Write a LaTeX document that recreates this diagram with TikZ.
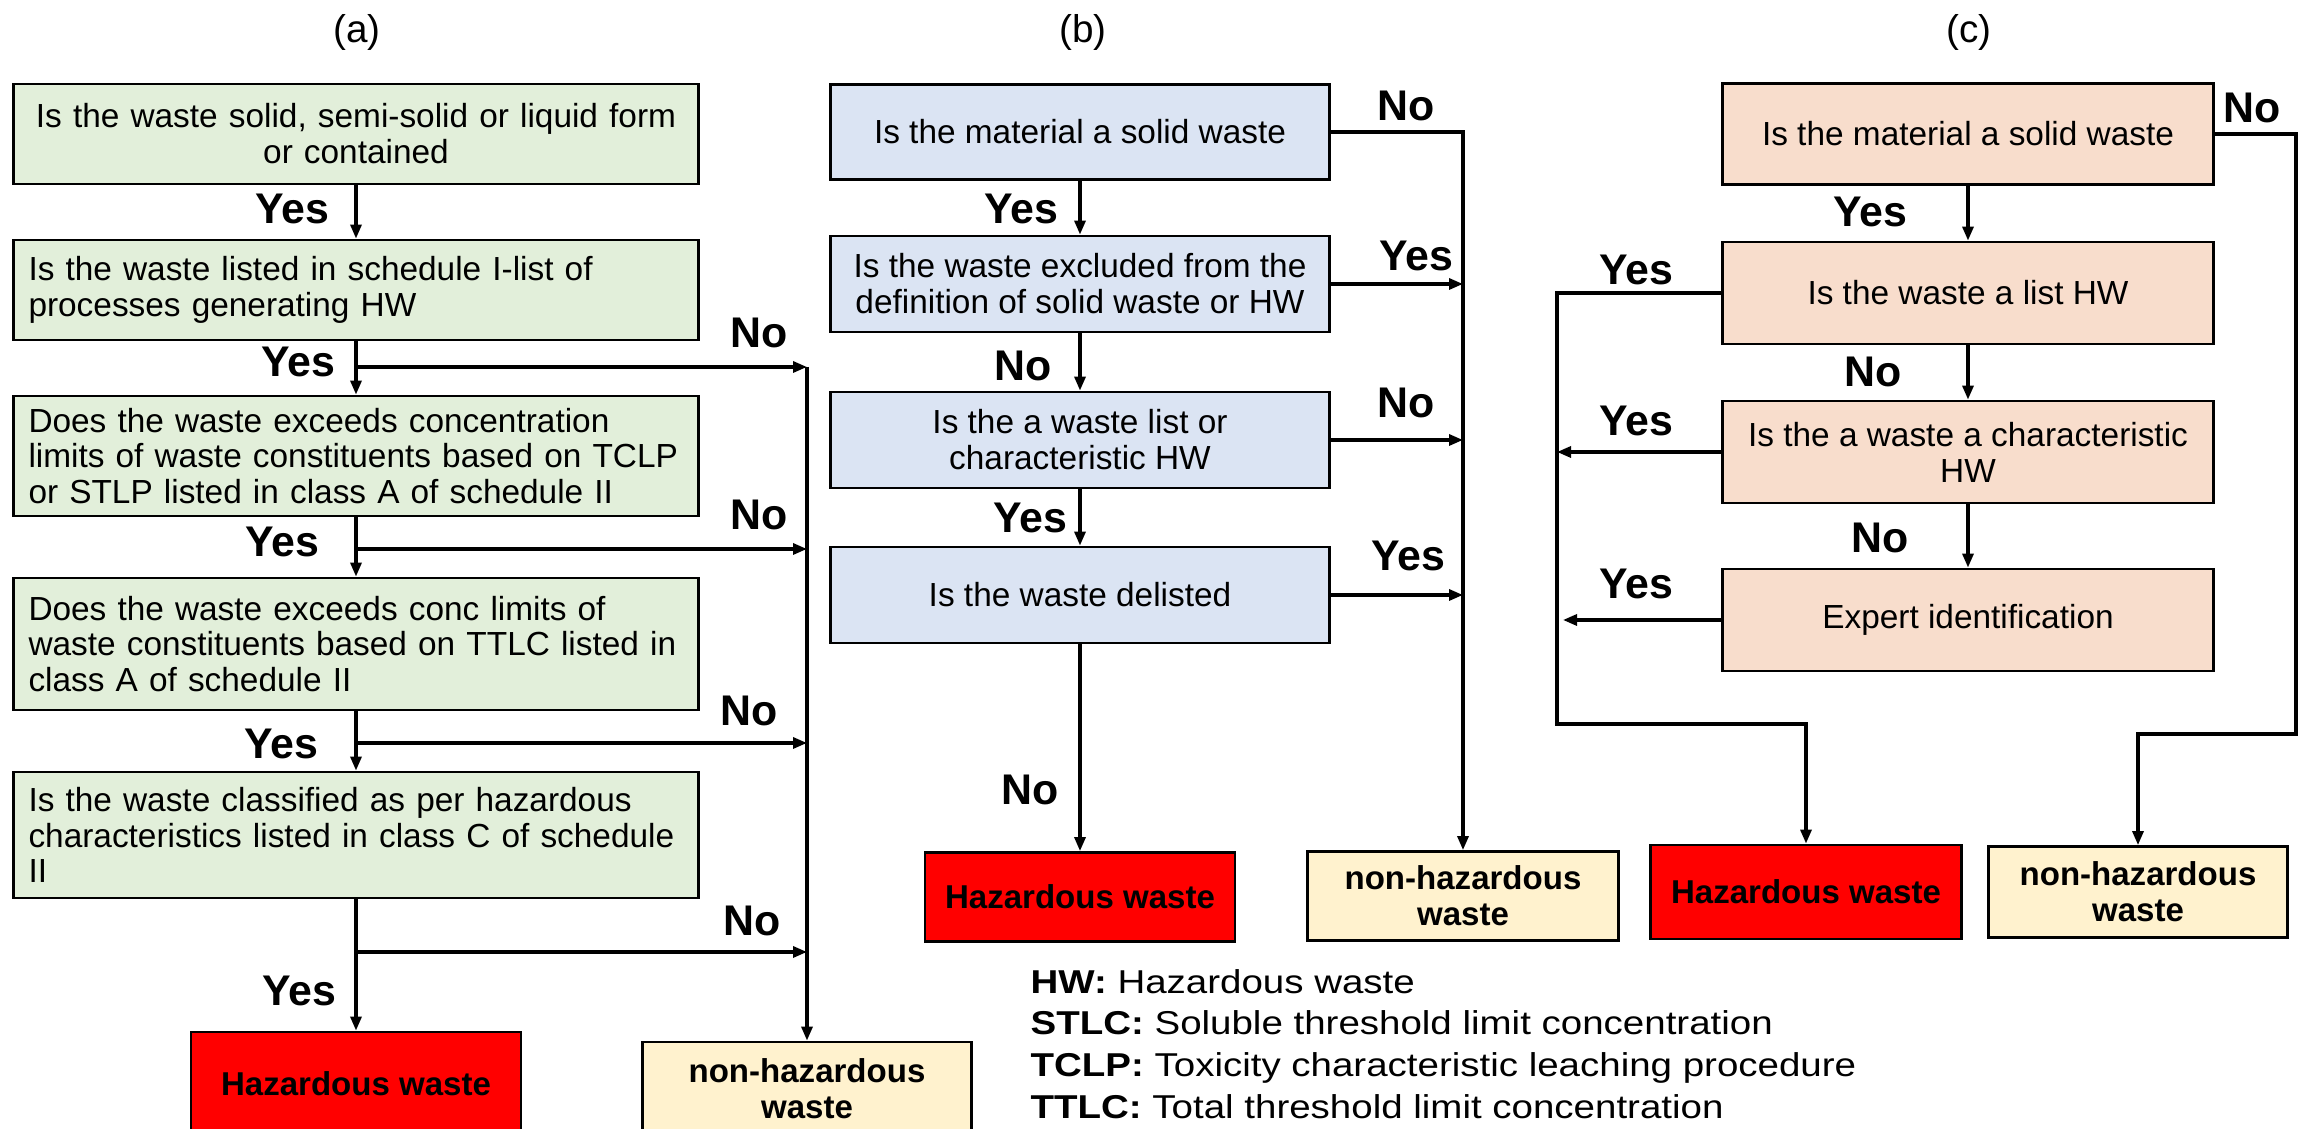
\documentclass[tikz,border=0pt]{standalone}
\usepackage{fontspec}
\setmainfont{Liberation Sans}
\newfontfamily\legendfont[FakeStretch=1.165]{Liberation Sans}
\usetikzlibrary{%
  arrows.meta,% Triangle tips
  positioning%
}

\definecolor{qgreen}{RGB}{226,239,218}
\definecolor{qblue}{RGB}{219,228,243}
\definecolor{qpeach}{RGB}{248,221,204}
\definecolor{safecream}{RGB}{255,242,206}
\definecolor{hazred}{RGB}{255,0,0}

\newcommand{\boxfont}{\fontsize{9.5}{10.2}\selectfont}
\newcommand{\outfont}{\fontsize{9.4}{10.2}\selectfont\bfseries}
\newcommand{\labfont}{\fontsize{12.2}{14}\selectfont\bfseries}

\begin{document}
\begin{tikzpicture}
    [   x=0.1mm, y=-0.1mm
    ,   >={Triangle[length=1.4mm,width=1.1mm]}
    ,   line width=0.9pt
    ,   question/.style=
            {   % The shape:
                rectangle
            ,   draw=black
            ,   line width=0.8pt
            ,   inner xsep=1.5mm
            ,   inner ysep=0pt
            ,   % The rest
                font=\boxfont
            }
    ,   qa/.style={question, fill=qgreen, text width=65.5mm, align=left}
    ,   qb/.style={question, fill=qblue, minimum width=49.9mm, align=center}
    ,   qc/.style={question, fill=qpeach, minimum width=49.1mm, align=center}
    ,   outcome/.style=
            {   rectangle
            ,   draw=black
            ,   line width=0.8pt
            ,   inner sep=0pt
            ,   align=center
            ,   font=\outfont
            }
    ,   hazard/.style={outcome, fill=hazred}
    ,   safe/.style={outcome, fill=safecream}
    ,   answer/.style={inner sep=0pt, font=\labfont}
    ,   panel/.style={inner sep=0pt, font=\fontsize{11}{13}\selectfont}
    ,   legend/.style={inner sep=0pt, anchor=base west, font={\legendfont\fontsize{9.4}{11}\selectfont}}
    ]

    \useasboundingbox (0,0) rectangle (2303,1129);
    \clip (0,0) rectangle (2303,1129);

    % (a)
    \node[panel] (ta) at (357,33) {(a)};
    \node[qa, align=center, minimum height=10mm] (a1) at (356,134)
        {Is the waste solid, semi-solid or liquid form\\or contained};
    \node[qa, minimum height=10mm] (a2) at (356,290)
        {Is the waste listed in schedule I-list of\\processes generating HW};
    \node[qa, minimum height=12mm] (a3) at (356,456)
        {Does the waste exceeds concentration\\limits of waste constituents based on TCLP\\or STLP listed in class A of schedule II};
    \node[qa, minimum height=13.2mm] (a4) at (356,644)
        {Does the waste exceeds conc limits of\\waste constituents based on TTLC listed in\\class A of schedule II};
    \node[qa, minimum height=12.6mm] (a5) at (356,835)
        {Is the waste classified as per hazardous\\characteristics listed in class C of schedule\\II};
    \node[hazard, minimum width=33mm, minimum height=10.4mm] (hzA) at (356,1084) {Hazardous waste};
    \node[safe, minimum width=32.9mm, minimum height=9.4mm] (nhA) at (807,1089) {non-hazardous\\waste};

    \coordinate (jA1) at (356,367);  \coordinate (kA1) at (807,367);
    \coordinate (jA2) at (356,549);  \coordinate (kA2) at (807,549);
    \coordinate (jA3) at (356,743);  \coordinate (kA3) at (807,743);
    \coordinate (jA4) at (356,952);  \coordinate (kA4) at (807,952);

    \draw[->](a1)--(a2);
    \draw[->](a2)--(a3);
    \draw[->](a3)--(a4);
    \draw[->](a4)--(a5);
    \draw[->](a5)--(hzA);
    \draw[->](jA1)--(kA1);
    \draw[->](jA2)--(kA2);
    \draw[->](jA3)--(kA3);
    \draw[->](jA4)--(kA4);
    \draw[->](kA1)--(nhA);

    \node[answer] (yA1) at (292,209) {Yes};
    \node[answer] (yA2) at (298,362) {Yes};
    \node[answer] (yA3) at (282,542) {Yes};
    \node[answer] (yA4) at (281,744) {Yes};
    \node[answer] (yA5) at (299,991) {Yes};
    \node[answer] (nA1) at (759,333) {No};
    \node[answer] (nA2) at (759,515) {No};
    \node[answer] (nA3) at (749,711) {No};
    \node[answer] (nA4) at (752,921) {No};

    % (b)
    \node[panel] (tb) at (1083,33) {(b)};
    \node[qb, minimum height=9.5mm] (b1) at (1080,132) {Is the material a solid waste};
    \node[qb, minimum height=9.6mm] (b2) at (1080,284)
        {Is the waste excluded from the\\definition of solid waste or HW};
    \node[qb, minimum height=9.6mm] (b3) at (1080,440)
        {Is the a waste list or\\characteristic HW};
    \node[qb, minimum height=9.6mm] (b4) at (1080,595) {Is the waste delisted};
    \node[hazard, minimum width=31mm, minimum height=8.9mm] (hzB) at (1080,897) {Hazardous waste};
    \node[safe, minimum width=31.1mm, minimum height=8.9mm] (nhB) at (1463,896) {non-hazardous\\waste};

    \draw[->](b1)--(b2);
    \draw[->](b2)--(b3);
    \draw[->](b3)--(b4);
    \draw[->](b4)--(hzB);
    \draw[->](b1.east)-|(nhB);
    \draw[->](b2.east)--(b2.east-|nhB.north);
    \draw[->](b3.east)--(b3.east-|nhB.north);
    \draw[->](b4.east)--(b4.east-|nhB.north);

    \node[answer] (yB1) at (1021,209) {Yes};
    \node[answer] (nB2) at (1023,366) {No};
    \node[answer] (yB3) at (1030,518) {Yes};
    \node[answer] (nB4) at (1030,790) {No};
    \node[answer] (nB1) at (1406,106) {No};
    \node[answer] (yB2) at (1416,256) {Yes};
    \node[answer] (nB3) at (1406,403) {No};
    \node[answer] (yB4) at (1408,556) {Yes};

    % (c)
    \node[panel] (tc) at (1969,33) {(c)};
    \node[qc, minimum height=10.1mm] (c1) at (1968,134) {Is the material a solid waste};
    \node[qc, minimum height=10.2mm] (c2) at (1968,293) {Is the waste a list HW};
    \node[qc, minimum height=10.2mm] (c3) at (1968,452)
        {Is the a waste a characteristic\\HW};
    \node[qc, minimum height=10.2mm] (c4) at (1968,620) {Expert identification};
    \node[hazard, minimum width=31.1mm, minimum height=9.4mm] (hzC) at (1806,892) {Hazardous waste};
    \node[safe, minimum width=29.9mm, minimum height=9.1mm] (nhC) at (2138,892) {non-hazardous\\waste};

    \coordinate (rC) at (2296,734);
    \coordinate (lC) at (1557,724);

    \draw[->](c1)--(c2);
    \draw[->](c2)--(c3);
    \draw[->](c3)--(c4);
    \draw[->](c1.east)-|(rC)-|(nhC);
    \draw[->](c2.west)-|(lC)-|(hzC);
    \draw[->](c3.west)--(c3.west-|lC);
    \draw[->,shorten >=0.6mm](c4.west)--(c4.west-|lC);

    \node[answer] (yC1) at (1870,212) {Yes};
    \node[answer] (nC2) at (1873,372) {No};
    \node[answer] (nC3) at (1880,538) {No};
    \node[answer] (nC1) at (2252,108) {No};
    \node[answer] (yC2) at (1636,270) {Yes};
    \node[answer] (yC3) at (1636,421) {Yes};
    \node[answer] (yC4) at (1636,584) {Yes};

    % legend
    \node[legend] (lgHW)   at (1029,994)  {\textbf{HW:} Hazardous waste};
    \node[legend] (lgSTLC) at (1029,1035) {\textbf{STLC:} Soluble threshold limit concentration};
    \node[legend] (lgTCLP) at (1029,1077) {\textbf{TCLP:} Toxicity characteristic leaching procedure};
    \node[legend] (lgTTLC) at (1029,1119) {\textbf{TTLC:} Total threshold limit concentration};
\end{tikzpicture}
\end{document}
